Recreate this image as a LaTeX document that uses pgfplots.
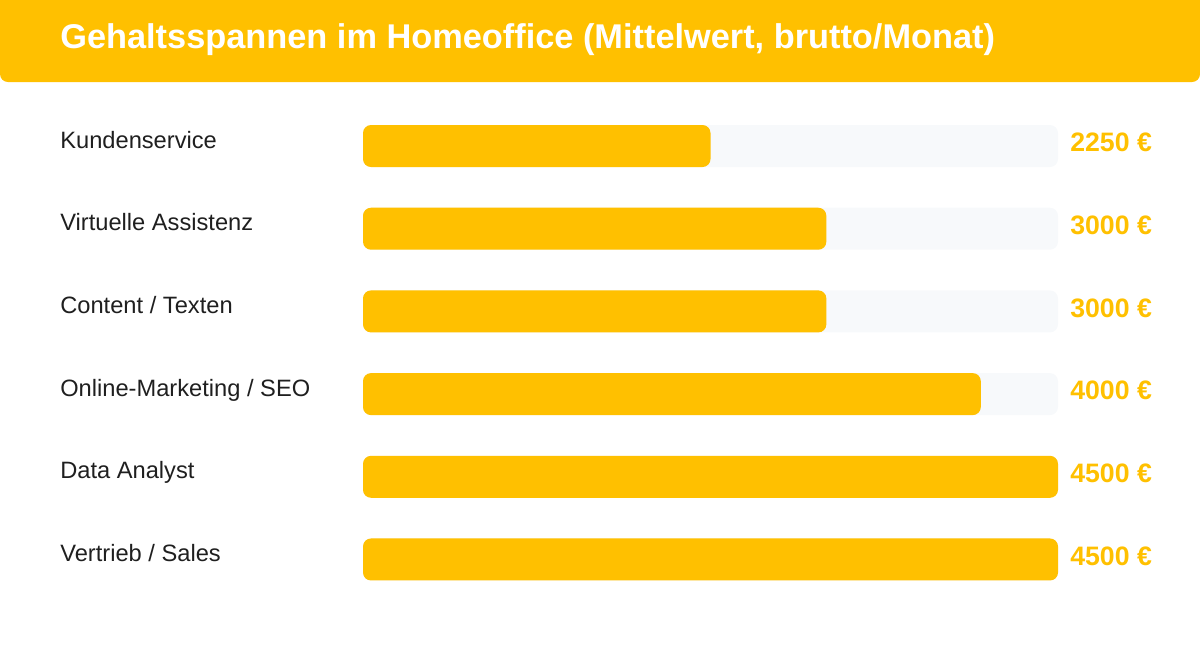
\documentclass[border=0pt]{standalone}
\usepackage{pgfplots}
\pgfplotsset{compat=1.18}
\usepackage{pgfplotstable}
\usepackage{fontspec}
\setmainfont{Liberation Sans}
\definecolor{gelb}{HTML}{FFC000}
\definecolor{spur}{HTML}{F7F9FB}
\definecolor{tinte}{HTML}{1F1F1F}

\pgfplotstableread{
idx wert spur text
0 2250 4500 2250
1 3000 4500 3000
2 3000 4500 3000
3 4000 4500 4000
4 4500 4500 4500
5 4500 4500 4500
}\gehalt

\begin{document}
\begin{tikzpicture}
% 1px = 0.6pt, page 1200x648 px
\useasboundingbox (0pt,0pt) rectangle (720pt,-388.8pt);
\fill[gelb, rounded corners=4.8pt] (0pt,4.8pt) rectangle (720pt,-49.2pt);
\node[anchor=base west, inner sep=0pt, text=white, font=\bfseries\fontsize{20.6}{24}\selectfont]
  at (36pt,-29.2pt) {Gehaltsspannen im Homeoffice (Mittelwert, brutto/Monat)};
\begin{axis}[
    at={(217.8pt,-62.8pt)}, anchor=north west,
    scale only axis,
    width=417pt, height=297.7pt,
    xmin=0, xmax=4500,
    ymin=-0.5, ymax=5.5,
    y dir=reverse,
    clip=false,
    axis line style={draw=none},
    major tick length=0pt,
    xtick=\empty,
    ytick={0,...,5},
    yticklabels={Kundenservice, Virtuelle Assistenz, Content / Texten,
                 Online-Marketing / SEO, Data Analyst, Vertrieb / Sales},
    yticklabel style={anchor=base west, inner sep=0pt, xshift=-181.8pt, yshift=-1.2pt,
                      text=tinte, font=\fontsize{14.2}{17}\selectfont},
    xbar, bar width=25.2pt, bar shift=0pt,
]
\addplot[fill=spur, draw=none, rounded corners=4.8pt,
    point meta=explicit symbolic,
    nodes near coords={\pgfplotspointmeta\ €},
    every node near coord/.style={anchor=base west, inner sep=0pt, xshift=7.2pt, yshift=-3.4pt,
        text=gelb, font=\bfseries\fontsize{16}{18}\selectfont}]
  table[x=spur, y=idx, meta=text] {\gehalt};
\addplot[fill=gelb, draw=none, rounded corners=4.8pt]
  table[x=wert, y=idx] {\gehalt};
\end{axis}
\end{tikzpicture}
\end{document}
